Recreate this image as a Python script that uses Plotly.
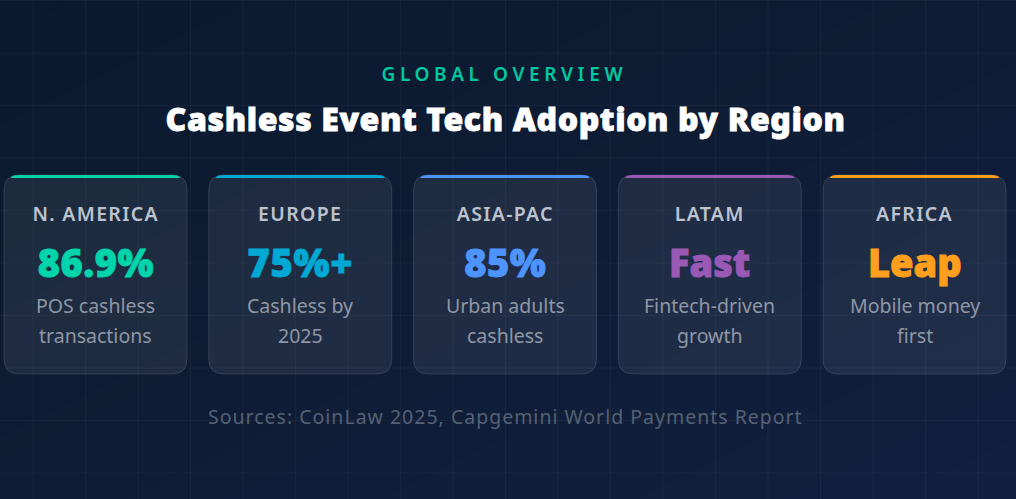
import plotly.graph_objects as go

regions = ["N. AMERICA", "EUROPE", "ASIA-PAC", "LATAM", "AFRICA"]
values = ["86.9%", "75%+", "85%", "Fast", "Leap"]
desc_1 = ["POS cashless", "Cashless by", "Urban adults", "Fintech-driven", "Mobile money"]
desc_2 = ["transactions", "2025", "cashless", "growth", "first"]
colors = ["#00d4aa", "#00a8d4", "#4d94ff", "#9b59b6", "#ff9f1c"]

W, H = 1016, 499
FONT = "Noto Sans"
card_w, card_top, card_bot = 183, 175, 374
card_step, first_left, rad = 204.75, 4, 15


def card_path(x0, x1, y0, y1, r):
    return (f"M{x0},{y0+r} Q{x0},{y0} {x0+r},{y0} L{x1-r},{y0} Q{x1},{y0} {x1},{y0+r} "
            f"L{x1},{y1-r} Q{x1},{y1} {x1-r},{y1} L{x0+r},{y1} Q{x0},{y1} {x0},{y1-r} Z")


def top_bar(x0, x1, y0, r, th):
    # only the part of the rounded top edge that is inside the card
    return (f"M{x0+r*0.45},{y0+th} Q{x0+r*0.5},{y0} {x0+r},{y0} L{x1-r},{y0} "
            f"Q{x1-r*0.5},{y0} {x1-r*0.45},{y0+th} Z")


# background gradient
fig = go.Figure(go.Heatmap(
    x=[0, W], y=[0, H], z=[[0, 0.5], [0.5, 1]], zsmooth="best", showscale=False, hoverinfo="skip",
    colorscale=[[0, "#0a1a2e"], [0.5, "#0e1c35"], [1, "#122040"]],
))

shapes = []
# faint grid, has to sit above the heatmap
for i in range(20):
    gx = 33 + 52.5 * i
    shapes.append(dict(type="line", x0=gx, x1=gx, y0=0, y1=H,
                       line=dict(color="rgba(255,255,255,0.04)", width=1)))
for i in range(10):
    gy = 0.5 + 52.5 * i
    shapes.append(dict(type="line", x0=0, x1=W, y0=gy, y1=gy,
                       line=dict(color="rgba(255,255,255,0.04)", width=1)))

ann = []


def label(x, y, text, size, color, weight=400):
    ann.append(dict(x=x, y=y, text=text, showarrow=False, xanchor="center", yanchor="middle",
                    font=dict(family=FONT, size=size, color=color, weight=weight)))


label(505, 73.5, "GLOBAL OVERVIEW", 19, "#00c9a0", 600)
label(505, 118.5, "Cashless Event Tech Adoption by Region", 32, "#ffffff", 900)

for i in range(len(regions)):
    x0 = first_left + card_step * i
    x1 = x0 + card_w
    cx = (x0 + x1) / 2
    shapes.append(dict(type="path", path=card_path(x0, x1, card_top, card_bot, rad),
                       fillcolor="rgba(255,255,255,0.07)",
                       line=dict(color="rgba(255,255,255,0.12)", width=1)))
    shapes.append(dict(type="path", path=top_bar(x0, x1, card_top, rad, 3),
                       fillcolor=colors[i], line=dict(width=0)))
    label(cx, 213.5, regions[i], 19.5, "#bcc3ce", 600)
    label(cx, 262, values[i], 38, colors[i], 900)
    label(cx, 305, desc_1[i], 19.5, "#8f97a5")
    label(cx, 335, desc_2[i], 19.5, "#8f97a5")

label(505, 416.5, "Sources: CoinLaw 2025, Capgemini World Payments Report", 19.5, "#566174")

fig.update_layout(
    width=W, height=H, margin=dict(l=0, r=0, t=0, b=0), shapes=shapes, annotations=ann,
    xaxis=dict(range=[0, W], visible=False, fixedrange=True),
    yaxis=dict(range=[H, 0], visible=False, fixedrange=True),
    paper_bgcolor="#0d1b33", plot_bgcolor="#0d1b33",
)

# plotly has no letter spacing or text stroke, set them on the svg text after drawing
spacing = """
var sp = {'GLOBAL OVERVIEW': '4.6px', 'Sources:': '1px', 'Cashless Event': '0.6px',
          'N. AMERICA': '1.3px', 'EUROPE': '1.3px', 'ASIA-PAC': '1.3px', 'LATAM': '1.3px', 'AFRICA': '1.3px',
          '86.9%': '0.5px', '75%+': '0.8px', '85%': '0.5px'};
var heavy = {'Cashless Event': '0.8px', '86.9%': '0.9px', '75%+': '0.9px', '85%': '0.9px', 'Fast': '0.9px', 'Leap': '0.9px'};
document.querySelectorAll('.annotation-text').forEach(function (t) {
  var s = t.textContent;
  Object.keys(sp).forEach(function (k) {
    if (s.indexOf(k) === 0) { t.style.letterSpacing = sp[k]; }
  });
  Object.keys(heavy).forEach(function (k) {
    if (s.indexOf(k) === 0) { t.style.stroke = t.style.fill; t.style.strokeWidth = heavy[k]; }
  });
});
document.body.style.margin = '0';
"""
fig.write_html("out.html", post_script=spacing, config=dict(displayModeBar=False))
